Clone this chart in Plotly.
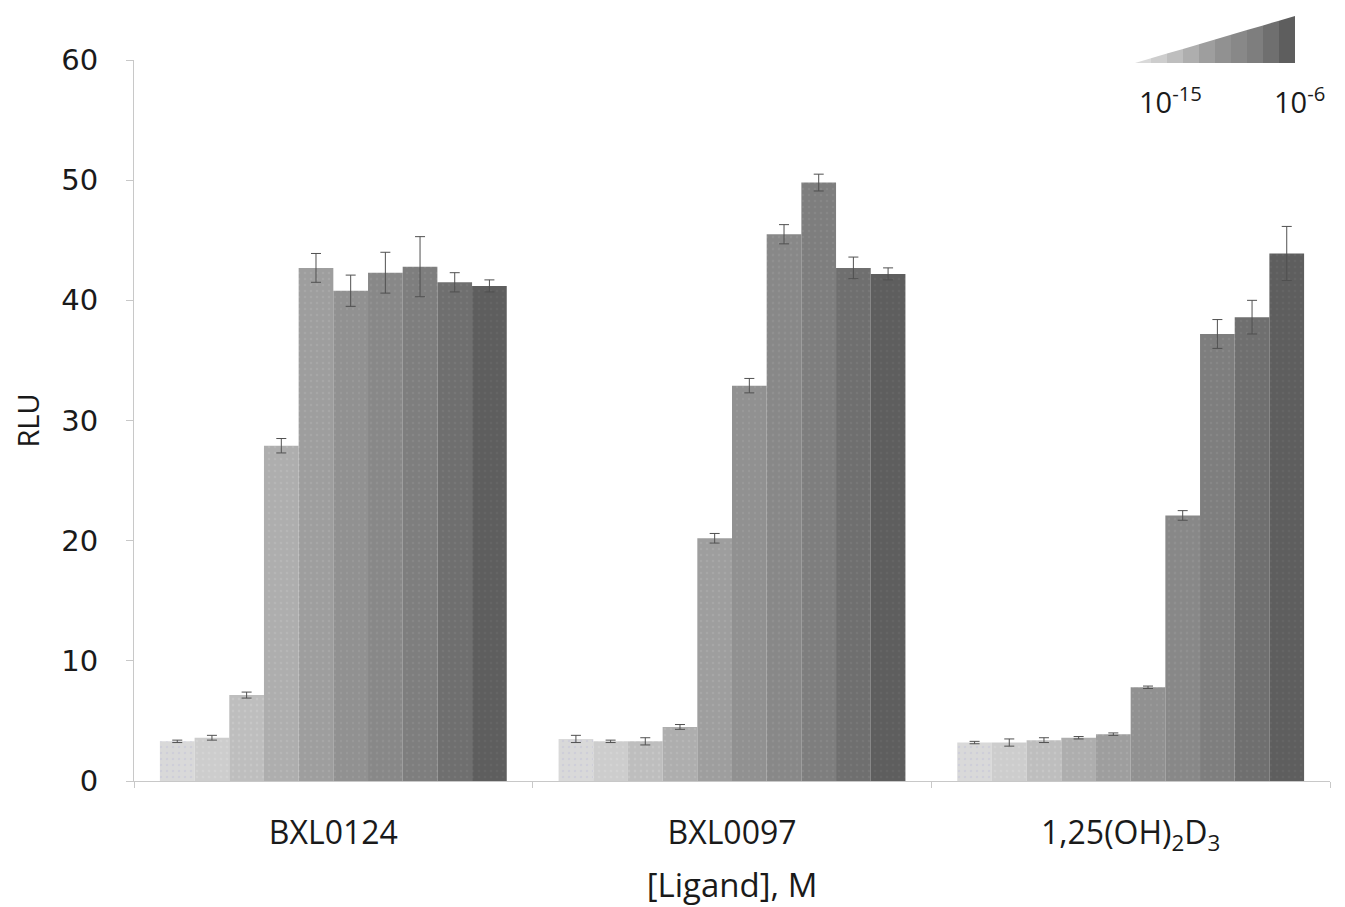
import plotly.graph_objects as go

categories = ["BXL0124", "BXL0097", "1,25(OH)<sub>2</sub>D<sub>3</sub>"]
concentrations = ["1e-15", "1e-14", "1e-13", "1e-12", "1e-11", "1e-10", "1e-9", "1e-8", "1e-7", "1e-6"]

# values[i] = RLU at concentration i for [BXL0124, BXL0097, 1,25(OH)2D3]
values = [
    [3.3, 3.5, 3.2],
    [3.6, 3.3, 3.2],
    [7.15, 3.3, 3.4],
    [27.9, 4.5, 3.6],
    [42.7, 20.2, 3.9],
    [40.8, 32.9, 7.8],
    [42.3, 45.5, 22.1],
    [42.8, 49.8, 37.2],
    [41.5, 42.7, 38.6],
    [41.2, 42.2, 43.9],
]
errors = [
    [0.1, 0.3, 0.1],
    [0.2, 0.1, 0.3],
    [0.25, 0.3, 0.2],
    [0.6, 0.2, 0.1],
    [1.2, 0.4, 0.1],
    [1.3, 0.6, 0.1],
    [1.7, 0.8, 0.4],
    [2.5, 0.7, 1.2],
    [0.8, 0.9, 1.4],
    [0.5, 0.5, 2.25],
]
colors = ["#d9d9d9", "#cdcdcd", "#bebebe", "#aeaeae", "#9e9e9e",
          "#919191", "#888888", "#7e7e7e", "#6f6f6f", "#5e5e5e"]
dotcolors = ["#c4c4d8", "#dadada", "#cfcfcf", "#c0c0c0", "#b0b0b0",
             "#a2a2a2", "#9a9a9a", "#8f8f8f", "#808080", "#6c6c6c"]

fig = go.Figure()
for i, c in enumerate(concentrations):
    fig.add_trace(go.Bar(
        x=categories, y=values[i], name=c,
        marker=dict(color=colors[i], line=dict(width=0),
                    pattern=dict(shape=".", fgcolor=dotcolors[i], size=6, solidity=0.12)),
        error_y=dict(type="data", array=errors[i], visible=True,
                     color="#505050", thickness=1, width=5),
        showlegend=False,
    ))

# gradient legend triangle (paper coordinates relative to the plot area,
# expressed from page pixel positions)
def px(x):
    return (x - 134) / 1196.0

def py(y):
    return (781 - y) / 721.0

x0, x1 = 1135, 1295
ytop, ybot = 16, 63
n = len(colors)
shapes = []
for i in range(n):
    xa = x0 + (x1 - x0) * i / n
    xb = x0 + (x1 - x0) * (i + 1) / n
    ya = ybot - (ybot - ytop) * i / n
    yb = ybot - (ybot - ytop) * (i + 1) / n
    path = (f"M {px(xa)},{py(ybot)} L {px(xb)},{py(ybot)} "
            f"L {px(xb)},{py(yb)} L {px(xa)},{py(ya)} Z")
    shapes.append(dict(type="path", xref="paper", yref="paper", path=path,
                       fillcolor=colors[i], line=dict(width=0), layer="above"))

txtfont = dict(family="Open Sans", size=29, color="#1a1a1a")
annotations = [
    dict(text="10<sup>-15</sup>", x=px(1170), y=py(100), xref="paper", yref="paper",
         xanchor="center", yanchor="middle", showarrow=False, font=txtfont),
    dict(text="10<sup>-6</sup>", x=px(1299), y=py(100), xref="paper", yref="paper",
         xanchor="center", yanchor="middle", showarrow=False, font=txtfont),
]

# page body has an 8px margin; size the figure so the plot lands where the reference has it
fig.update_layout(
    width=1337, height=899,
    margin=dict(l=126, r=15, t=52, b=126, autoexpand=False),
    paper_bgcolor="white", plot_bgcolor="white",
    barmode="group", bargap=0.13, bargroupgap=0,
    shapes=shapes, annotations=annotations,
    xaxis=dict(
        automargin=False,
        showline=True, linecolor="#c8c8c8", linewidth=1,
        ticks="outside", tickson="boundaries", ticklen=6, tickcolor="#c8c8c8",
        tickfont=dict(family="Open Sans", size=32, color="#1a1a1a"),
        ticklabelstandoff=24,
        title=dict(text="[Ligand], M", font=dict(family="Open Sans", size=33, color="#1a1a1a"),
                   standoff=18),
        showgrid=False,
    ),
    yaxis=dict(
        automargin=False,
        range=[0, 60], dtick=10,
        showline=True, linecolor="#c8c8c8", linewidth=1,
        ticks="outside", ticklen=7, tickcolor="#c8c8c8",
        tickfont=dict(family="DejaVu Sans", size=29, color="#1a1a1a"),
        ticklabelstandoff=22,
        title=dict(text="RLU", font=dict(family="Open Sans", size=29, color="#1a1a1a"),
                   standoff=26),
        showgrid=False, zeroline=False,
    ),
)

fig.write_html("out.html")
